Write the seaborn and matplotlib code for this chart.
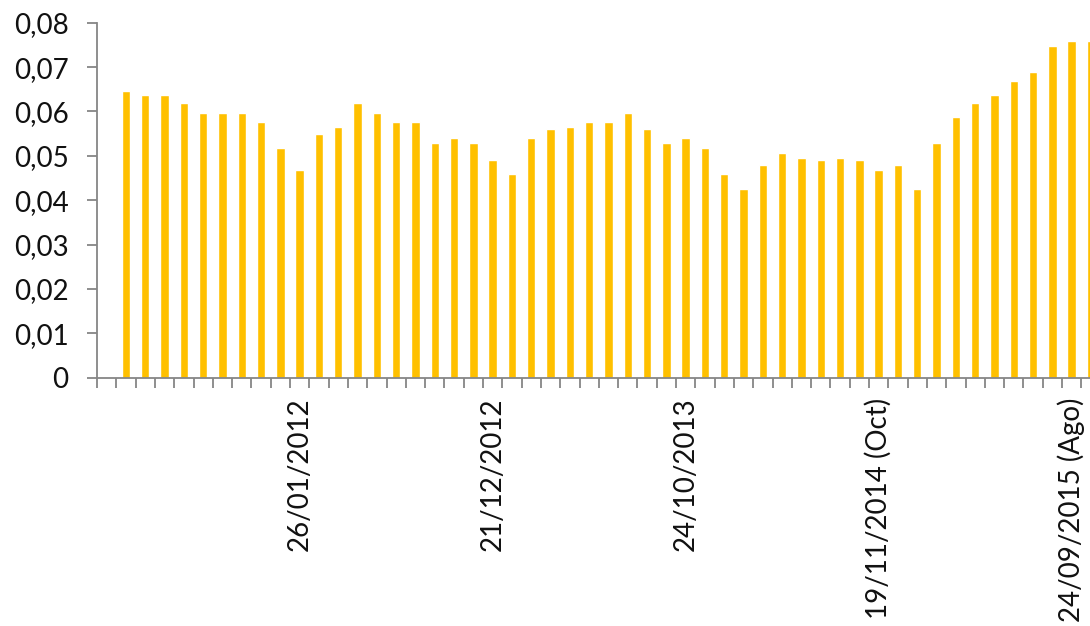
import numpy as np
import pandas as pd
import matplotlib
matplotlib.use("Agg")
import matplotlib.pyplot as plt
import seaborn as sns

# ---- data ----
positions = list(range(52))
values = [np.nan, 0.0647, 0.0636, 0.0636, 0.0619, 0.0597, 0.0597, 0.0597, 0.0576, 0.0518,
          0.0469, 0.0550, 0.0566, 0.0619, 0.0597, 0.0576, 0.0576, 0.0528, 0.0540, 0.0528,
          0.0491, 0.0458, 0.0540, 0.0561, 0.0566, 0.0576, 0.0576, 0.0597, 0.0561, 0.0528,
          0.0540, 0.0518, 0.0458, 0.0426, 0.0480, 0.0507, 0.0496, 0.0491, 0.0496, 0.0491,
          0.0469, 0.0480, 0.0426, 0.0528, 0.0588, 0.0619, 0.0636, 0.0668, 0.0690, 0.0748,
          0.0759, 0.0759]
label_positions = [10, 20, 30, 40, 50]
label_texts = ["26/01/2012", "21/12/2012", "24/10/2013", "19/11/2014 (Oct)", "24/09/2015 (Ago)"]
y_ticks = [0, 0.01, 0.02, 0.03, 0.04, 0.05, 0.06, 0.07, 0.08]
y_labels = ["0", "0,01", "0,02", "0,03", "0,04", "0,05", "0,06", "0,07", "0,08"]

sns.set_theme(style="white")
plt.rcParams["font.family"] = ["Lato", "DejaVu Sans"]

W, H = 1090, 626
fig = plt.figure(figsize=(W / 100, H / 100), dpi=100)
x0, x1 = 97, 1100.6
y_top, y_bot = 22.7, 377.7
ax = fig.add_axes([x0 / W, (H - y_bot) / H, (x1 - x0) / W, (y_bot - y_top) / H])

df = pd.DataFrame({"pos": positions, "value": values})
sns.barplot(data=df, x="pos", y="value", native_scale=True, width=0.44,
            color="#FFC000", saturation=1, errorbar=None, ax=ax)

ax.set_xlim(-0.5, 51.5)
ax.set_ylim(0, 0.08)
ax.set_xlabel("")
ax.set_ylabel("")

axis_col = "#868686"
for s in ["top", "right"]:
    ax.spines[s].set_visible(False)
for s in ["left", "bottom"]:
    ax.spines[s].set_color(axis_col)
    ax.spines[s].set_linewidth(1.3)

ax.set_yticks(y_ticks)
ax.set_yticklabels(y_labels)
ax.tick_params(axis="y", which="major", left=True, length=7.5, width=1.3, color=axis_col,
               pad=13, labelsize=20, labelcolor="#111111")

ax.set_xticks(np.arange(-0.5, 52, 1))
ax.set_xticklabels([])
ax.tick_params(axis="x", which="major", bottom=True, length=7.5, width=1.3, color=axis_col)
ax.set_xticks(label_positions, minor=True)
ax.set_xticklabels(label_texts, minor=True, rotation=90)
ax.tick_params(axis="x", which="minor", bottom=True, length=0, pad=14.5,
               labelsize=20, labelcolor="#111111")

fig.savefig("out.png", dpi=100)
